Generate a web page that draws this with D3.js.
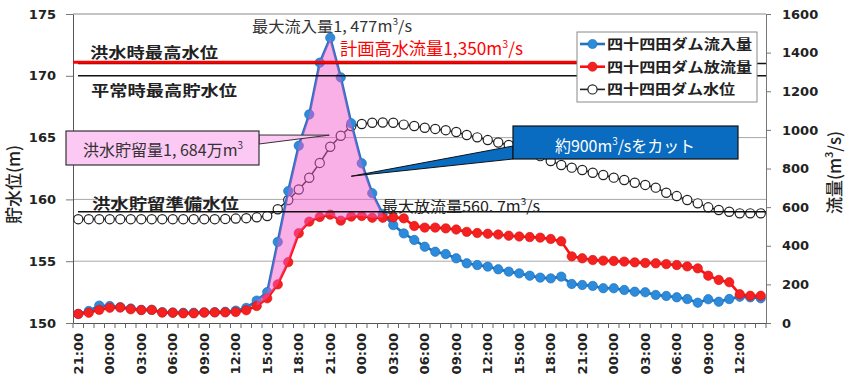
<!DOCTYPE html>
<html>
<head>
<meta charset="utf-8">
<script src="https://cdn.jsdelivr.net/npm/d3@7"></script>
<style>
  body { margin: 0; background: #fff; }
  svg { display: block; font-family: "Noto Sans CJK JP", sans-serif; }
</style>
</head>
<body>
<div id="container"></div>
<script>
/* DATA */
const times = [
  "21:00", "22:00", "23:00",
  "00:00", "01:00", "02:00", "03:00", "04:00", "05:00", "06:00", "07:00", "08:00", "09:00", "10:00", "11:00",
  "12:00", "13:00", "14:00", "15:00", "16:00", "17:00", "18:00", "19:00", "20:00", "21:00", "22:00", "23:00",
  "00:00", "01:00", "02:00", "03:00", "04:00", "05:00", "06:00", "07:00", "08:00", "09:00", "10:00", "11:00",
  "12:00", "13:00", "14:00", "15:00", "16:00", "17:00", "18:00", "19:00", "20:00", "21:00", "22:00", "23:00",
  "00:00", "01:00", "02:00", "03:00", "04:00", "05:00", "06:00", "07:00", "08:00", "09:00", "10:00", "11:00",
  "12:00", "13:00", "14:00"
]

// 流入量 (m3/s)
const inflow = [
  47, 62, 90, 88, 82, 75, 68, 68, 56, 54,
  53, 53, 55, 56, 58, 64, 78, 116, 160, 420,
  683, 918, 1080, 1348, 1477, 1272, 1034, 827, 672, 565,
  507, 464, 430, 395, 369, 357, 335, 309, 300, 292,
  278, 266, 257, 245, 235, 231, 240, 202, 197, 192,
  180, 180, 171, 162, 159, 145, 140, 133, 124, 105,
  123, 110, 124, 136, 133, 128
]

// 放流量 (m3/s)
const outflow = [
  47, 53, 68, 79, 80, 71, 67, 68, 54, 53,
  50, 50, 54, 55, 55, 57, 66, 88, 128, 200,
  315, 465, 525, 549, 561, 530, 551, 554, 545, 545,
  547, 542, 502, 494, 494, 490, 484, 472, 466, 462,
  458, 452, 448, 445, 442, 435, 423, 345, 335, 326,
  323, 321, 318, 314, 311, 309, 305, 300, 293, 283,
  245, 223, 211, 149, 141, 141
]

// 水位 (m)
const level = [
  158.4, 158.4, 158.4, 158.4, 158.4, 158.4, 158.4, 158.4, 158.4, 158.4,
  158.4, 158.4, 158.4, 158.4, 158.42, 158.45, 158.48, 158.55, 158.65, 159.2,
  159.95, 160.8, 161.75, 162.95, 164.26, 165.15, 165.94, 166.1, 166.2, 166.22,
  166.2, 166.05, 165.94, 165.8, 165.7, 165.6, 165.45, 165.21, 165.02, 164.8,
  164.6, 164.4, 164.15, 163.85, 163.5, 163.1, 162.78, 162.57, 162.38, 162.16,
  161.97, 161.76, 161.57, 161.35, 161.17, 160.95, 160.54, 160.27, 159.95, 159.68,
  159.36, 159.14, 159.0, 158.87, 158.87, 158.87
]

const levelTicks = [150, 155, 160, 165, 170, 175]
const flowTicks = [0, 200, 400, 600, 800, 1000, 1200, 1400, 1600]
const gridLevels = [155, 160, 165]

// reference levels (m)
const refLevelNames = ["洪水時最高水位", "平常時最高貯水位", "洪水貯留準備水位"]
const refLevelValues = [171.0, 170.0, 159.0]
const planFlow = 1350

const legendNames = ["四十四田ダム流入量", "四十四田ダム放流量", "四十四田ダム水位"]

/* CONSTANTS */
const width = 854, height = 374
const plot = { left: 73, right: 766, top: 14, bottom: 323 }
const blue = "#1f74c2", blueDot = "#2d8bdb"
const red = "#ff1010", redDot = "#f52020"

/* SCALES */
const xScale = d3.scaleBand()
  .domain(d3.range(times.length))
  .range([plot.left, plot.right])
const cx = i => xScale(i) + xScale.bandwidth() / 2

const yLevel = d3.scaleLinear().domain([150, 175]).range([plot.bottom, plot.top])
const yFlow = d3.scaleLinear().domain([0, 1600]).range([plot.bottom, plot.top])

/* SVG */
const svg = d3.select("#container")
  .append("svg")
  .attr("width", width)
  .attr("height", height)

// grid lines
svg.append("g")
  .selectAll("line")
  .data(gridLevels)
  .join("line")
  .attr("x1", plot.left).attr("x2", plot.right)
  .attr("y1", d => yLevel(d)).attr("y2", d => yLevel(d))
  .attr("stroke", "#a8a8a8")
  .attr("stroke-width", 1)

// top border
svg.append("line")
  .attr("x1", plot.left).attr("x2", plot.right)
  .attr("y1", yLevel(175)).attr("y2", yLevel(175))
  .attr("stroke", "#8a8a8a")

// AXES
const leftAxis = svg.append("g")
  .attr("transform", `translate(${plot.left},0)`)
  .call(d3.axisLeft(yLevel).tickValues(levelTicks).tickSize(7).tickPadding(10).tickSizeOuter(0))
const rightAxis = svg.append("g")
  .attr("transform", `translate(${plot.right},0)`)
  .call(d3.axisRight(yFlow).tickValues(flowTicks).tickFormat(d3.format("d"))
    .tickSize(5).tickPadding(11).tickSizeOuter(0))

const bottomAxis = svg.append("g")
  .attr("transform", `translate(0,${plot.bottom})`)
  .call(d3.axisBottom(xScale)
    .tickValues(d3.range(times.length).filter(i => i % 3 === 0))
    .tickFormat(i => times[i])
    .tickSize(0)
    .tickSizeOuter(0))

bottomAxis.selectAll("text")
  .attr("transform", "rotate(-90)")
  .attr("x", -10)
  .attr("y", 0)
  .attr("dy", "0.36em")
  .style("text-anchor", "end")

// category tick marks
bottomAxis.append("g")
  .selectAll("line")
  .data(d3.range(times.length + 1))
  .join("line")
  .attr("x1", i => i < times.length ? xScale(i) : plot.right)
  .attr("x2", i => i < times.length ? xScale(i) : plot.right)
  .attr("y1", 0).attr("y2", 5)
  .attr("stroke", "#666")

;[leftAxis, rightAxis, bottomAxis].forEach(ax => {
  ax.selectAll("text")
    .attr("font-family", "DejaVu Sans")
    .attr("font-weight", "bold")
    .attr("font-size", 13)
    .attr("fill", "#222")
  ax.select(".domain").attr("stroke", "#777")
  ax.selectAll(".tick line").attr("stroke", "#777")
})
leftAxis.select(".domain").attr("stroke", "#555")
bottomAxis.select(".domain").attr("stroke", "#555")

// axis titles
svg.append("text")
  .attr("transform", `translate(14,${(plot.top + plot.bottom) / 2 + 16}) rotate(-90)`)
  .attr("text-anchor", "middle")
  .attr("dy", "0.35em")
  .attr("font-size", 17)
  .attr("font-weight", 500)
  .attr("fill", "#222")
  .text("貯水位(m)")

const rTitle = svg.append("text")
  .attr("transform", `translate(835,${(plot.top + plot.bottom) / 2 + 4}) rotate(-90)`)
  .attr("text-anchor", "middle")
  .attr("dy", "0.35em")
  .attr("font-size", 17)
  .attr("font-weight", 500)
  .attr("fill", "#222")
rTitle.append("tspan").text("流量(m")
rTitle.append("tspan").attr("baseline-shift", "super").attr("font-size", "65%").text("3")
rTitle.append("tspan").text("/s)")

// SERIES
const levelLine = d3.line().x((d, i) => cx(i)).y(d => yLevel(d))
const flowLine = d3.line().x((d, i) => cx(i)).y(d => yFlow(d))

// water level
svg.append("path")
  .attr("d", levelLine(level))
  .attr("fill", "none")
  .attr("stroke", "#222")
  .attr("stroke-width", 1.5)
svg.append("g")
  .selectAll("circle")
  .data(level)
  .join("circle")
  .attr("cx", (d, i) => cx(i))
  .attr("cy", d => yLevel(d))
  .attr("r", 4.6)
  .attr("fill", "#fff")
  .attr("stroke", "#222")
  .attr("stroke-width", 1.2)

// inflow
svg.append("path")
  .attr("d", flowLine(inflow))
  .attr("fill", "none")
  .attr("stroke", blue)
  .attr("stroke-width", 2.6)
svg.append("g")
  .selectAll("circle")
  .data(inflow)
  .join("circle")
  .attr("cx", (d, i) => cx(i))
  .attr("cy", d => yFlow(d))
  .attr("r", 4.7)
  .attr("fill", blueDot)
  .attr("stroke", "#1a6ab3")
  .attr("stroke-width", 0.6)

// outflow
svg.append("path")
  .attr("d", flowLine(outflow))
  .attr("fill", "none")
  .attr("stroke", red)
  .attr("stroke-width", 2.6)
svg.append("g")
  .selectAll("circle")
  .data(outflow)
  .join("circle")
  .attr("cx", (d, i) => cx(i))
  .attr("cy", d => yFlow(d))
  .attr("r", 4.7)
  .attr("fill", redDot)
  .attr("stroke", "#d81010")
  .attr("stroke-width", 0.6)

// storage area between inflow and outflow
const storeIdx = d3.range(17, 30)
const areaGen = d3.area()
  .x(i => cx(i))
  .y0(i => yFlow(outflow[i]))
  .y1(i => yFlow(inflow[i]))
svg.append("path")
  .attr("d", areaGen(storeIdx))
  .attr("fill", "#f058cc")
  .attr("fill-opacity", 0.47)

// reference lines
svg.append("g")
  .selectAll("line")
  .data(refLevelValues)
  .join("line")
  .attr("x1", plot.left + 5).attr("x2", plot.right)
  .attr("y1", d => yLevel(d)).attr("y2", d => yLevel(d))
  .attr("stroke", "#111")
  .attr("stroke-width", 1.6)

svg.append("line")
  .attr("x1", plot.left).attr("x2", 577)
  .attr("y1", yFlow(planFlow)).attr("y2", yFlow(planFlow))
  .attr("stroke", "#ff0000")
  .attr("stroke-width", 3)

// reference labels
const refLabelPos = [
  { x: 90, dy: -5, len: 128 },
  { x: 91, dy: 20, len: 146 },
  { x: 92, dy: -3, len: 147 }
]
svg.append("g")
  .selectAll("text")
  .data(refLevelNames)
  .join("text")
  .attr("x", (d, i) => refLabelPos[i].x)
  .attr("y", (d, i) => yLevel(refLevelValues[i]) + refLabelPos[i].dy)
  .attr("textLength", (d, i) => refLabelPos[i].len)
  .attr("lengthAdjust", "spacingAndGlyphs")
  .attr("font-size", 15)
  .attr("font-weight", "bold")
  .attr("fill", "#222")
  .text(d => d)

// helper for text with m³
function supText(parent, x, y, parts, opts) {
  const t = parent.append("text")
    .attr("x", x).attr("y", y)
    .attr("font-size", opts.size)
    .attr("fill", opts.fill)
    .attr("textLength", opts.len)
    .attr("lengthAdjust", "spacingAndGlyphs")
  if (opts.anchor) t.attr("text-anchor", opts.anchor)
  parts.forEach(p => {
    const s = t.append("tspan").text(p.t)
    if (p.sup) s.attr("baseline-shift", "super").attr("font-size", "62%")
  })
  return t
}

supText(svg, 252, 32,
  [{ t: "最大流入量1, 477m" }, { t: "3", sup: true }, { t: "/s" }],
  { size: 15, fill: "#333", len: 160 })

supText(svg, 340, 55,
  [{ t: "計画高水流量1,350m" }, { t: "3", sup: true }, { t: "/s" }],
  { size: 17, fill: "#ff0000", len: 183 })

supText(svg, 382, 212,
  [{ t: "最大放流量560. 7m" }, { t: "3", sup: true }, { t: "/s" }],
  { size: 15, fill: "#222", len: 158 })

// callout: storage volume
svg.append("polygon")
  .attr("points", `259,135 ${cx(24) - 1},${yLevel(165.2)} 259,144`)
  .attr("fill", "#fcc8f4")
  .attr("stroke", "#333")
  .attr("stroke-width", 1)
svg.append("rect")
  .attr("x", 66).attr("y", 131)
  .attr("width", 193).attr("height", 34)
  .attr("fill", "#fcc8f4")
  .attr("stroke", "#333")
  .attr("stroke-width", 1.2)
supText(svg, 83, 156,
  [{ t: "洪水貯留量1, 684万m" }, { t: "3", sup: true }],
  { size: 16, fill: "#333", len: 160 })

// callout: cut amount
svg.append("polygon")
  .attr("points", `513,146 ${cx(26)},${yFlow(760)} 513,159`)
  .attr("fill", "#0a6cc0")
  .attr("stroke", "#111")
  .attr("stroke-width", 1)
svg.append("rect")
  .attr("x", 513).attr("y", 126)
  .attr("width", 225).attr("height", 33)
  .attr("fill", "#0a6cc0")
  .attr("stroke", "#111")
  .attr("stroke-width", 1.2)
supText(svg, 625, 152,
  [{ t: "約900m" }, { t: "3", sup: true }, { t: "/sをカット" }],
  { size: 16, fill: "#fff", len: 140, anchor: "middle" })

// LEGEND
const legend = svg.append("g").attr("transform", "translate(577,32)")
legend.append("rect")
  .attr("width", 180).attr("height", 70)
  .attr("fill", "#fff")
  .attr("stroke", "#8a8a8a")
const legendStyle = [
  { line: blue, dot: blueDot, dotStroke: "#1a6ab3", len: 145 },
  { line: red, dot: redDot, dotStroke: "#d81010", len: 145 },
  { line: "#222", dot: "#fff", dotStroke: "#222", len: 128 }
]
const item = legend.selectAll("g")
  .data(legendNames)
  .join("g")
  .attr("transform", (d, i) => `translate(0,${12 + i * 22.7})`)
item.append("line")
  .attr("x1", 3).attr("x2", 28)
  .attr("stroke", (d, i) => legendStyle[i].line)
  .attr("stroke-width", (d, i) => i < 2 ? 2.6 : 1.6)
item.append("circle")
  .attr("cx", 15.5).attr("r", 4.6)
  .attr("fill", (d, i) => legendStyle[i].dot)
  .attr("stroke", (d, i) => legendStyle[i].dotStroke)
  .attr("stroke-width", (d, i) => i < 2 ? 0.6 : 1.2)
item.append("text")
  .attr("x", 30)
  .attr("dy", "0.36em")
  .attr("font-size", 14)
  .attr("font-weight", "bold")
  .attr("fill", "#222")
  .attr("textLength", (d, i) => legendStyle[i].len)
  .attr("lengthAdjust", "spacingAndGlyphs")
  .text(d => d)
</script>
</body>
</html>
